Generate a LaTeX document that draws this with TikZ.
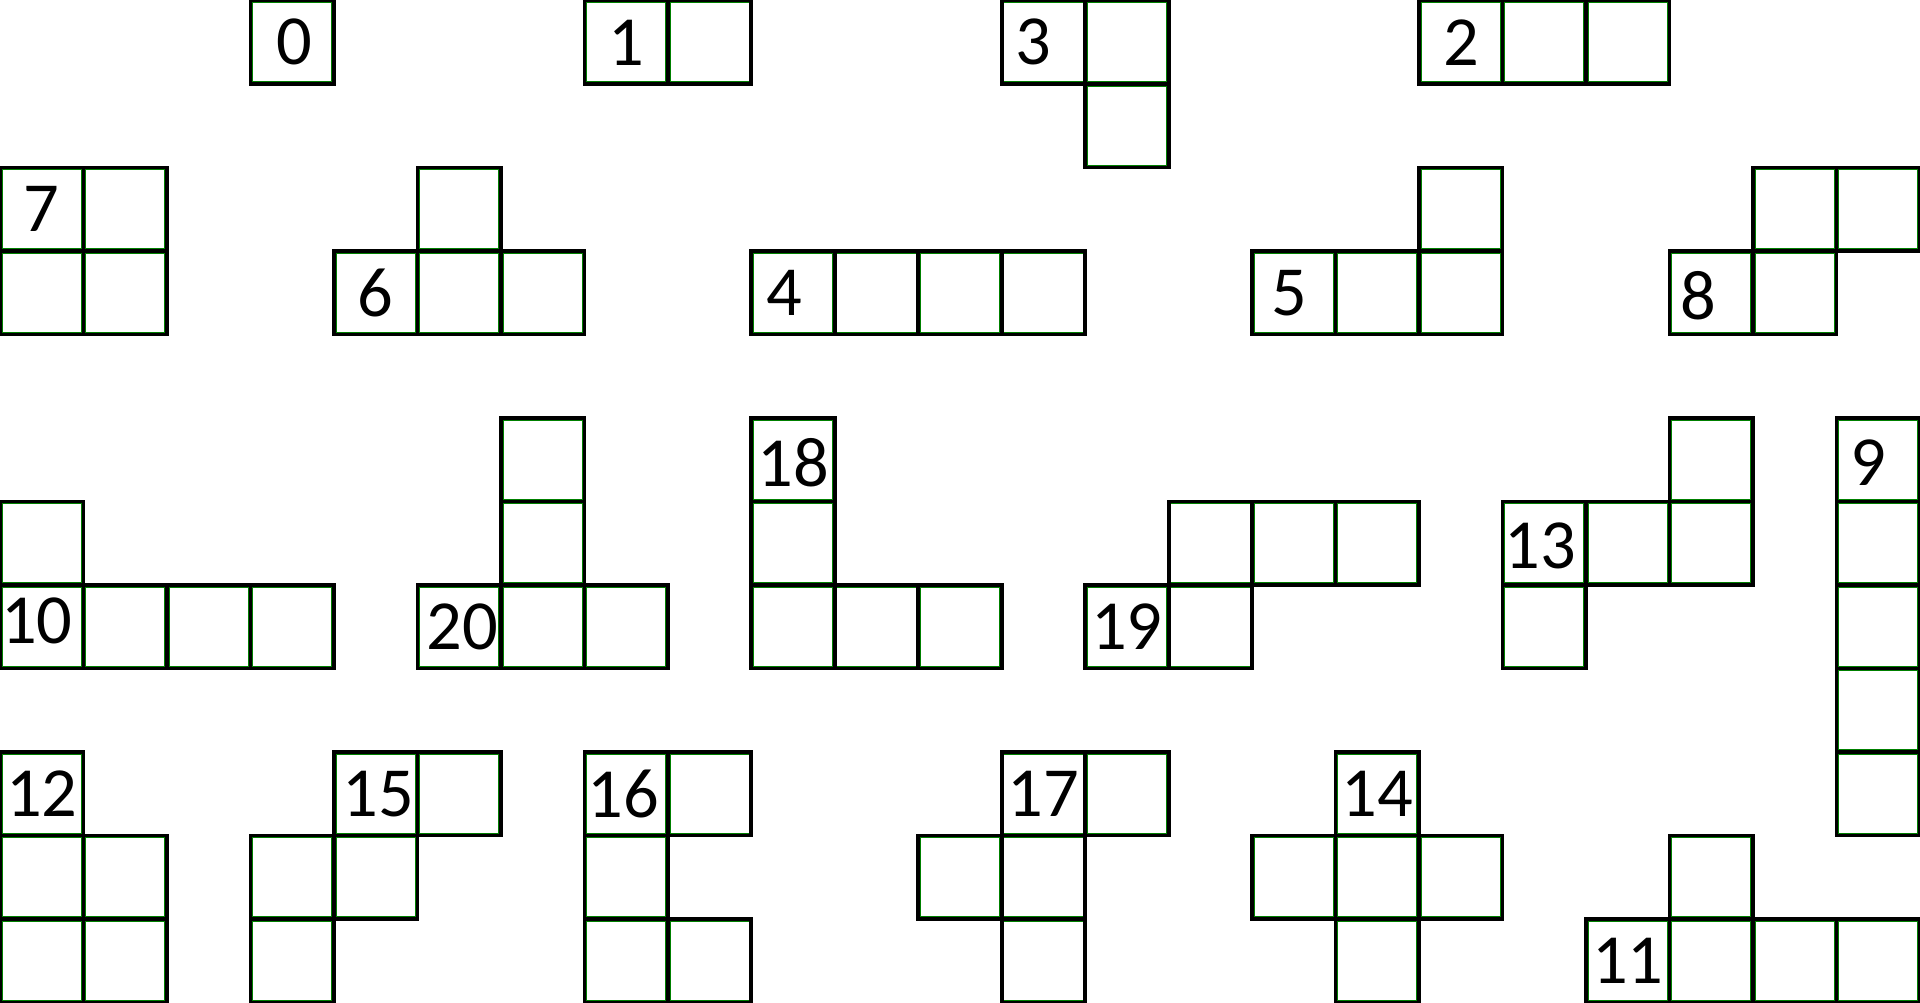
\documentclass[tikz,border=0pt]{standalone}
\usepackage{fontspec}
\setmainfont{Carlito}
\begin{document}
\begin{tikzpicture}[x=1cm,y=1cm,
  cell/.style={rectangle, draw=black, line width=1.25pt, minimum size=1cm, inner sep=0pt, outer sep=0pt,
    path picture={\draw[green!50!black, line width=0.35pt]
      ([shift={(0.026,-0.026)}]path picture bounding box.north west) rectangle
      ([shift={(-0.026,0.026)}]path picture bounding box.south east);}},
  lbl/.style={inner sep=0pt, font=\fontsize{24}{24}\selectfont, text=black}]
\useasboundingbox (0,0.0075) rectangle (23,-12.0075);
% piece 0
\node[cell] (c0) at (3.5,-0.5) {};
\node[lbl] (t0) at ([xshift=0.02cm]c0) {0};
% piece 1
\node[cell] (c1) at (7.5,-0.5) {};
\foreach \c/\r [count=\i] in {8/0} \node[cell] (c1-\i) at (\c+0.5,-\r-0.5) {};
\node[lbl] (t1) at (c1) {1};
% piece 3
\node[cell] (c3) at (12.5,-0.5) {};
\foreach \c/\r [count=\i] in {13/0,13/1} \node[cell] (c3-\i) at (\c+0.5,-\r-0.5) {};
\node[lbl] (t3) at ([xshift=-0.12cm]c3) {3};
% piece 2
\node[cell] (c2) at (17.5,-0.5) {};
\foreach \c/\r [count=\i] in {18/0,19/0} \node[cell] (c2-\i) at (\c+0.5,-\r-0.5) {};
\node[lbl] (t2) at (c2) {2};
% piece 7
\node[cell] (c7) at (0.5,-2.5) {};
\foreach \c/\r [count=\i] in {1/2,0/3,1/3} \node[cell] (c7-\i) at (\c+0.5,-\r-0.5) {};
\node[lbl] (t7) at (c7) {7};
% piece 6
\node[cell] (c6) at (4.5,-3.5) {};
\foreach \c/\r [count=\i] in {5/3,6/3,5/2} \node[cell] (c6-\i) at (\c+0.5,-\r-0.5) {};
\node[lbl] (t6) at (c6) {6};
% piece 4
\node[cell] (c4) at (9.5,-3.5) {};
\foreach \c/\r [count=\i] in {10/3,11/3,12/3} \node[cell] (c4-\i) at (\c+0.5,-\r-0.5) {};
\node[lbl] (t4) at ([xshift=-0.1cm]c4) {4};
% piece 5
\node[cell] (c5) at (15.5,-3.5) {};
\foreach \c/\r [count=\i] in {16/3,17/3,17/2} \node[cell] (c5-\i) at (\c+0.5,-\r-0.5) {};
\node[lbl] (t5) at ([xshift=-0.05cm]c5) {5};
% piece 8
\node[cell] (c8) at (20.5,-3.5) {};
\foreach \c/\r [count=\i] in {21/3,21/2,22/2} \node[cell] (c8-\i) at (\c+0.5,-\r-0.5) {};
\node[lbl] (t8) at ([xshift=-0.16cm,yshift=-0.03cm]c8) {8};
% piece 10
\node[cell] (c10) at (0.5,-7.5) {};
\foreach \c/\r [count=\i] in {1/7,2/7,3/7,0/6} \node[cell] (c10-\i) at (\c+0.5,-\r-0.5) {};
\node[lbl] (t10) at ([xshift=-0.06cm,yshift=0.07cm]c10) {10};
% piece 20
\node[cell] (c20) at (5.5,-7.5) {};
\foreach \c/\r [count=\i] in {6/7,7/7,6/6,6/5} \node[cell] (c20-\i) at (\c+0.5,-\r-0.5) {};
\node[lbl] (t20) at ([xshift=0.04cm]c20) {20};
% piece 18
\node[cell] (c18) at (9.5,-5.5) {};
\foreach \c/\r [count=\i] in {9/6,9/7,10/7,11/7} \node[cell] (c18-\i) at (\c+0.5,-\r-0.5) {};
\node[lbl] (t18) at ([yshift=-0.03cm]c18) {18};
% piece 19
\node[cell] (c19) at (13.5,-7.5) {};
\foreach \c/\r [count=\i] in {14/7,14/6,15/6,16/6} \node[cell] (c19-\i) at (\c+0.5,-\r-0.5) {};
\node[lbl] (t19) at (c19) {19};
% piece 13
\node[cell] (c13) at (18.5,-6.5) {};
\foreach \c/\r [count=\i] in {19/6,20/6,20/5,18/7} \node[cell] (c13-\i) at (\c+0.5,-\r-0.5) {};
\node[lbl] (t13) at ([xshift=-0.05cm,yshift=-0.03cm]c13) {13};
% piece 9
\node[cell] (c9) at (22.5,-5.5) {};
\foreach \c/\r [count=\i] in {22/6,22/7,22/8,22/9} \node[cell] (c9-\i) at (\c+0.5,-\r-0.5) {};
\node[lbl] (t9) at ([xshift=-0.12cm,yshift=-0.03cm]c9) {9};
% piece 12
\node[cell] (c12) at (0.5,-9.5) {};
\foreach \c/\r [count=\i] in {0/10,1/10,0/11,1/11} \node[cell] (c12-\i) at (\c+0.5,-\r-0.5) {};
\node[lbl] (t12) at (c12) {12};
% piece 15
\node[cell] (c15) at (4.5,-9.5) {};
\foreach \c/\r [count=\i] in {5/9,3/10,4/10,3/11} \node[cell] (c15-\i) at (\c+0.5,-\r-0.5) {};
\node[lbl] (t15) at ([xshift=0.03cm]c15) {15};
% piece 16
\node[cell] (c16) at (7.5,-9.5) {};
\foreach \c/\r [count=\i] in {8/9,7/10,7/11,8/11} \node[cell] (c16-\i) at (\c+0.5,-\r-0.5) {};
\node[lbl] (t16) at ([xshift=-0.03cm]c16) {16};
% piece 17
\node[cell] (c17) at (12.5,-9.5) {};
\foreach \c/\r [count=\i] in {13/9,11/10,12/10,12/11} \node[cell] (c17-\i) at (\c+0.5,-\r-0.5) {};
\node[lbl] (t17) at (c17) {17};
% piece 14
\node[cell] (c14) at (16.5,-9.5) {};
\foreach \c/\r [count=\i] in {15/10,16/10,17/10,16/11} \node[cell] (c14-\i) at (\c+0.5,-\r-0.5) {};
\node[lbl] (t14) at (c14) {14};
% piece 11
\node[cell] (c11) at (19.5,-11.5) {};
\foreach \c/\r [count=\i] in {20/11,21/11,22/11,20/10} \node[cell] (c11-\i) at (\c+0.5,-\r-0.5) {};
\node[lbl] (t11) at (c11) {11};
\end{tikzpicture}
\end{document}
